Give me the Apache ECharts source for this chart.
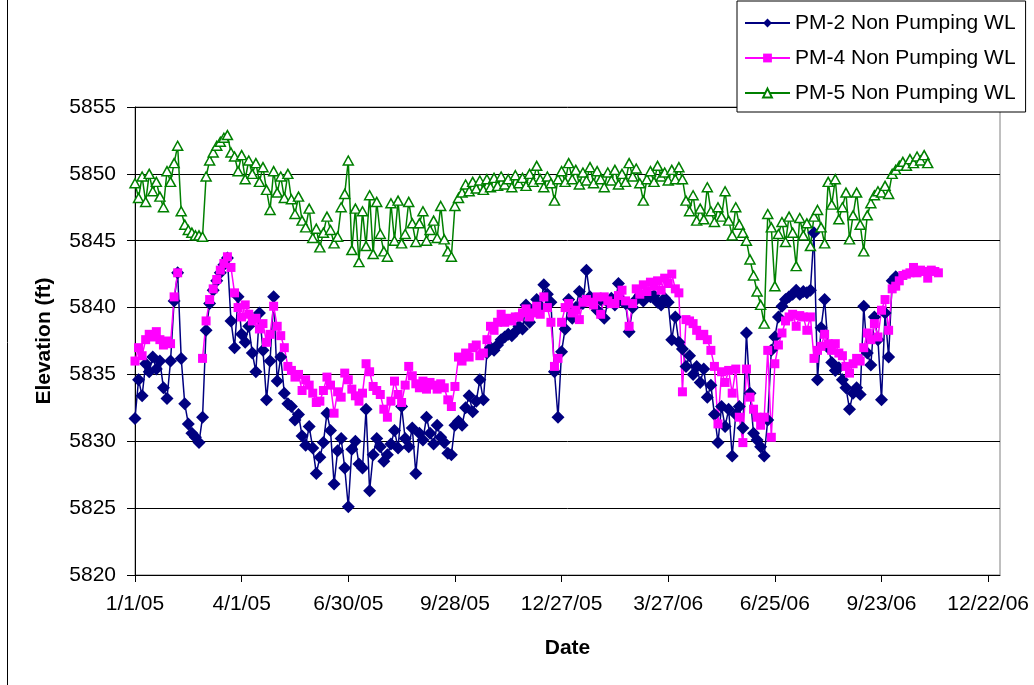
<!DOCTYPE html>
<html>
<head>
<meta charset="utf-8">
<script src="https://cdn.jsdelivr.net/npm/echarts@6/dist/echarts.min.js"></script>
<style>
html,body{margin:0;padding:0;background:#fff;}
#chart{width:1034px;height:685px;}
</style>
</head>
<body>
<div id="chart"></div>
<script>
// Days since 1/1/05 for each reading
const days = [
  0,3,6,9,12,15,18,21,24,27,
  30,33,36,39,42,45,48,51,54,57,
  60,63,66,69,72,75,78,81,84,87,
  90,93,96,99,102,105,108,111,114,117,
  120,123,126,129,132,135,138,141,144,147,
  150,153,156,159,162,165,168,171,174,177,
  180,183,186,189,192,195,198,201,204,207,
  210,213,216,219,222,225,228,231,234,237,
  240,243,246,249,252,255,258,261,264,267,
  270,273,276,279,282,285,288,291,294,297,
  300,303,306,309,312,315,318,321,324,327,
  330,333,336,339,342,345,348,351,354,357,
  360,363,366,369,372,375,378,381,384,387,
  390,393,396,399,402,405,408,411,414,417,
  420,423,426,429,432,435,438,441,444,447,
  450,453,456,459,462,465,468,471,474,477,
  480,483,486,489,492,495,498,501,504,507,
  510,513,516,519,522,525,528,531,534,537,
  540,543,546,549,552,555,558,561,564,567,
  570,573,576,579,582,585,588,591,594,597,
  600,603,606,609,612,615,618,621,624,627,
  630,633,636,639,642,645,648,651,654,657,
  660,663,666,669,672,675,678
];

const seriesNames = ['PM-2 Non Pumping WL', 'PM-4 Non Pumping WL', 'PM-5 Non Pumping WL'];

const pm2 = [
  5831.7,5834.6,5833.4,5835.8,5835.2,5836.3,5835.4,5836.0,5834.0,5833.2,
  5836.0,5840.5,5842.6,5836.2,5832.8,5831.3,5830.6,5830.3,5829.9,5831.8,
  5838.3,5840.3,5841.3,5842.0,5842.6,5843.2,5843.7,5839.0,5837.0,5840.8,
  5838.0,5837.4,5838.6,5836.6,5835.2,5839.6,5836.8,5833.1,5836.0,5840.8,
  5834.5,5836.3,5833.6,5832.8,5832.6,5831.6,5832.0,5830.4,5829.7,5831.1,
  5829.5,5827.6,5828.8,5829.9,5832.1,5830.8,5826.8,5829.3,5830.2,5828.0,
  5825.1,5829.4,5830.0,5828.3,5828.0,5832.4,5826.3,5829.0,5830.2,5829.6,
  5828.5,5829.0,5829.8,5830.8,5829.5,5832.6,5830.2,5829.6,5831.0,5827.6,
  5830.6,5830.1,5831.8,5830.6,5829.8,5831.2,5830.3,5829.9,5829.1,5829.0,
  5831.2,5831.5,5831.2,5832.5,5833.4,5832.2,5833.0,5834.6,5833.1,5836.6,
  5837.0,5836.8,5837.2,5837.6,5837.8,5838.0,5837.9,5838.2,5838.6,5838.4,
  5840.2,5838.9,5839.8,5840.6,5840.1,5841.7,5841.0,5840.4,5835.2,5831.8,
  5836.7,5838.4,5840.6,5839.2,5840.0,5841.2,5840.3,5842.8,5840.8,5840.4,
  5839.8,5840.6,5839.2,5840.4,5840.7,5840.2,5841.8,5840.5,5840.3,5838.2,
  5840.0,5840.6,5840.9,5840.5,5841.1,5840.8,5840.9,5840.4,5840.2,5840.7,
  5840.4,5837.6,5839.3,5837.4,5836.9,5835.6,5836.4,5835.0,5835.6,5834.4,
  5835.4,5833.3,5834.2,5832.0,5829.9,5832.6,5831.1,5832.4,5828.9,5832.0,
  5832.6,5831.0,5838.1,5833.6,5830.6,5830.1,5829.6,5828.9,5831.6,5836.8,
  5837.8,5839.3,5840.1,5840.6,5840.8,5841.0,5841.3,5841.0,5841.2,5841.1,
  5841.3,5845.6,5834.6,5838.5,5840.6,5837.0,5835.9,5835.3,5835.5,5834.6,
  5834.0,5832.4,5833.6,5834.0,5833.5,5840.1,5836.6,5835.7,5839.3,5837.6,
  5833.1,5839.6,5836.3,5842.0,5842.3
];

const pm4 = [
  5836.0,5837.0,5836.4,5837.6,5838.0,5837.8,5838.2,5837.6,5837.2,5837.5,
  5837.3,5840.8,5842.6,null,null,null,null,null,null,5836.2,
  5839.0,5840.6,5841.4,5842.1,5842.8,5843.3,5843.8,5843.0,5841.1,5840.0,
  5839.3,5840.2,5839.5,5839.0,5839.2,5838.4,5838.8,5837.4,5838.0,5840.1,
  5838.6,5837.9,5837.0,5835.6,5835.3,5834.8,5835.0,5833.8,5834.6,5834.2,
  5833.6,5832.9,5833.0,5833.8,5834.8,5834.2,5832.1,5833.7,5833.3,5835.1,
  5834.6,5833.9,5833.4,5833.0,5833.6,5835.8,5835.2,5834.1,5833.8,5833.5,
  5832.4,5831.8,5833.0,5834.5,5833.5,5832.9,5834.2,5835.6,5834.9,5834.3,
  5834.0,5834.5,5833.9,5834.4,5834.2,5833.9,5834.3,5834.0,5833.1,5832.6,
  5834.1,5836.3,5836.0,5836.6,5836.3,5837.0,5837.2,5836.4,5836.6,5837.6,
  5838.6,5838.3,5838.9,5839.5,5838.9,5839.2,5839.0,5839.3,5839.3,5839.6,
  5839.9,5839.3,5839.6,5840.1,5839.5,5840.8,5840.0,5838.9,5835.6,5836.2,
  5838.9,5840.0,5840.3,5839.6,5839.8,5839.1,5840.4,5840.6,5840.4,5840.2,
  5840.8,5839.5,5840.8,5840.5,5840.3,5840.3,5840.9,5841.3,5840.5,5838.6,
  5840.3,5841.4,5841.0,5841.7,5841.2,5841.9,5841.6,5842.0,5841.3,5842.2,
  5841.8,5842.5,5841.4,5841.1,5833.7,5839.1,5839.0,5838.8,5838.3,5837.9,
  5838.0,5837.6,5836.8,5835.6,5831.3,5835.2,5834.4,5835.3,5833.6,5835.4,
  5831.8,5829.9,5835.4,5833.3,5832.4,5831.8,5831.2,5831.8,5836.8,5830.3,
  5835.8,5837.2,5838.1,5839.0,5839.3,5839.5,5838.6,5839.4,5839.3,5838.3,
  5839.3,5836.2,5836.8,5837.1,5838.0,5837.3,5836.8,5837.3,5836.6,5836.4,
  5835.6,5835.1,5835.8,5836.2,5836.0,5837.0,5838.1,5837.6,5838.8,5837.8,
  5839.8,5840.6,5838.3,5841.4,5841.6,5842.0,5842.4,5842.5,5842.6,5843.0,
  5842.6,5842.8,5842.7,5842.2,5842.8,5842.7,5842.6
];

const pm5 = [
  5849.3,5848.2,5849.8,5847.9,5850.0,5848.7,5849.4,5848.3,5847.5,5850.2,
  5849.4,5850.8,5852.1,5847.2,5846.2,5845.8,5845.6,5845.4,5845.4,5845.3,
  5849.8,5851.0,5851.6,5852.1,5852.4,5852.7,5852.9,5851.6,5851.3,5850.2,
  5851.4,5849.6,5851.0,5850.0,5850.8,5849.4,5850.5,5848.8,5847.3,5850.2,
  5848.6,5849.8,5848.2,5850.0,5848.1,5847.0,5848.3,5846.5,5846.0,5847.4,
  5845.2,5845.9,5844.5,5845.6,5846.8,5845.8,5844.8,5845.3,5847.5,5848.5,
  5851.0,5844.3,5847.4,5843.4,5847.2,5844.6,5848.4,5844.0,5847.9,5845.5,
  5844.2,5843.8,5847.8,5845.0,5848.0,5844.8,5845.5,5847.9,5846.3,5844.9,
  5846.3,5847.2,5845.0,5845.8,5846.5,5845.2,5847.6,5845.1,5844.2,5843.8,
  5847.6,5848.2,5848.6,5849.2,5848.7,5849.4,5848.9,5849.5,5848.8,5849.6,
  5849.0,5849.7,5849.1,5849.8,5849.2,5849.6,5849.0,5849.9,5849.3,5849.7,
  5849.1,5850.0,5849.4,5850.6,5849.6,5849.0,5849.8,5849.3,5848.0,5849.6,
  5850.2,5849.4,5850.8,5849.6,5850.3,5849.2,5850.1,5849.5,5850.5,5849.3,
  5850.2,5849.6,5849.0,5850.1,5849.5,5850.3,5849.2,5850.0,5849.4,5850.8,
  5849.8,5850.4,5849.3,5848.0,5849.6,5850.2,5849.4,5850.6,5849.8,5850.1,
  5849.5,5850.3,5849.6,5850.5,5849.6,5848.0,5847.2,5848.4,5846.5,5847.4,
  5846.6,5849.0,5847.2,5846.4,5847.5,5846.8,5848.7,5846.5,5845.4,5847.5,
  5846.2,5845.6,5845.0,5843.6,5842.4,5841.2,5840.2,5838.8,5847.0,5846.0,
  5841.6,5845.5,5846.4,5844.9,5846.8,5845.6,5843.1,5846.7,5845.4,5846.3,
  5844.6,5846.8,5847.3,5846.0,5844.8,5849.4,5847.7,5849.6,5846.6,5847.5,
  5848.6,5845.1,5846.9,5848.6,5846.2,5844.2,5846.9,5847.8,5848.4,5848.7,
  5848.6,5849.1,5848.5,5850.0,5850.3,5850.6,5850.9,5850.6,5851.1,5850.8,
  5851.3,5851.0,5851.4,5850.8
];

const xTickDays = [0,90,180,270,360,450,540,630,720];
const yMin = 5820, yMax = 5855, yStep = 5;
const xMaxDays = 730;

function toPairs(vals) {
  return vals.map((v, i) => [days[i], v === null ? '-' : v]);
}
function dayLabel(d) {
  const dt = new Date(Date.UTC(2005, 0, 1) + d * 86400000);
  return (dt.getUTCMonth() + 1) + '/' + dt.getUTCDate() + '/' + String(dt.getUTCFullYear()).slice(2);
}

const FONT = '"Liberation Sans", Arial, sans-serif';
const chart = echarts.init(document.getElementById('chart'), null, {renderer: 'canvas'});

chart.setOption({
  animation: false,
  backgroundColor: '#fff',
  textStyle: {fontFamily: FONT, color: '#000'},
  graphic: [{
    type: 'line', shape: {x1: 7.5, y1: 0, x2: 7.5, y2: 685},
    style: {stroke: '#000', lineWidth: 1}
  }],
  grid: {
    left: 135, top: 107, width: 865, height: 468,
    show: true, borderColor: '#808080', borderWidth: 1, backgroundColor: '#fff'
  },
  legend: {
    left: 737, top: 1,
    orient: 'vertical',
    padding: [11, 10, 8, 7],
    itemWidth: 45, itemHeight: 11, itemGap: 13,
    backgroundColor: '#fff', borderColor: '#000', borderWidth: 1,
    textStyle: {fontFamily: FONT, fontSize: 21, color: '#000', lineHeight: 22},
    data: seriesNames
  },
  xAxis: {
    type: 'value', min: 0, max: xMaxDays, interval: 90,
    name: 'Date', nameLocation: 'middle', nameGap: 63,
    nameTextStyle: {fontFamily: FONT, fontSize: 21, fontWeight: 'bold', color: '#000'},
    axisLine: {show: true, onZero: false, lineStyle: {color: '#000', width: 1}},
    axisTick: {show: true, length: 7, inside: false, customValues: xTickDays, lineStyle: {color: '#000'}},
    axisLabel: {
      customValues: xTickDays,
      fontFamily: FONT, fontSize: 21, color: '#000', margin: 19,
      formatter: v => dayLabel(v)
    },
    splitLine: {show: false}
  },
  yAxis: {
    type: 'value', min: yMin, max: yMax, interval: yStep,
    name: 'Elevation (ft)', nameLocation: 'middle', nameGap: 80, nameRotate: 90,
    nameTextStyle: {fontFamily: FONT, fontSize: 21, fontWeight: 'bold', color: '#000'},
    axisLine: {show: true, lineStyle: {color: '#000', width: 1}},
    axisTick: {show: true, length: 8, lineStyle: {color: '#000'}},
    axisLabel: {fontFamily: FONT, fontSize: 21, color: '#000', margin: 19, formatter: v => String(v)},
    splitLine: {show: true, lineStyle: {color: '#000', width: 1}}
  },
  series: [
    {
      name: seriesNames[0], type: 'line', data: toPairs(pm2),
      symbol: 'diamond', symbolSize: 13,
      itemStyle: {color: '#000080'},
      lineStyle: {color: '#000080', width: 1.5}
    },
    {
      name: seriesNames[1], type: 'line', data: toPairs(pm4),
      symbol: 'rect', symbolSize: 9,
      itemStyle: {color: '#FF00FF'},
      lineStyle: {color: '#FF00FF', width: 1.5}
    },
    {
      name: seriesNames[2], type: 'line', data: toPairs(pm5),
      symbol: 'triangle', symbolSize: [10, 9],
      itemStyle: {color: '#fff', borderColor: '#008000', borderWidth: 1.5},
      lineStyle: {color: '#008000', width: 1.5}
    }
  ]
});
</script>
</body>
</html>
